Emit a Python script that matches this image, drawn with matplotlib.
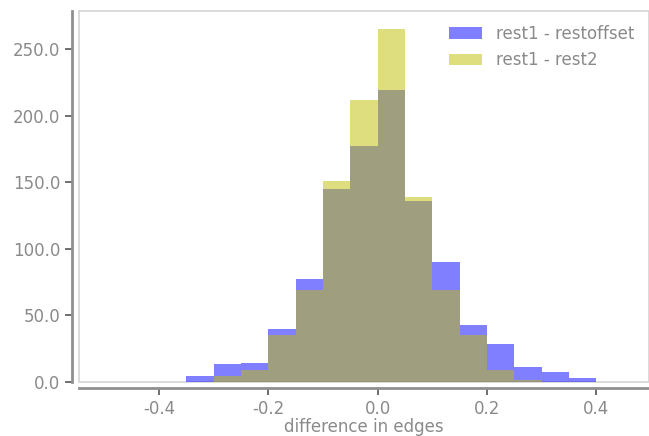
import numpy as np
import matplotlib.pyplot as plt
from matplotlib.patches import Rectangle

# histogram bin edges and counts for the two edge differences
edges = np.round(np.arange(-0.35, 0.40001, 0.05), 2)
counts_offset = [4, 13, 14, 40, 77, 145, 177, 219, 136, 90, 43, 28, 11, 7, 3]
counts_rest2 = [0, 4, 9, 35, 69, 151, 212, 265, 139, 69, 35, 9, 1, 0, 0]
centers = (edges[:-1] + edges[1:]) / 2

grey_text = '#8a8a8a'
grey_line = '#8f8f8f'

plt.rcParams['font.size'] = 12

fig = plt.figure(figsize=(6.49, 4.36), dpi=100)
ax = fig.add_axes([0.121, 0.1245, 0.879, 0.851])

ax.hist(centers, bins=edges, weights=counts_offset, color='b', alpha=0.5,
        label='rest1 - restoffset')
ax.hist(centers, bins=edges, weights=counts_rest2, color='y', alpha=0.5,
        label='rest1 - rest2')

ax.set_xlim(-0.547, 0.496)
ax.set_ylim(0, 279)
ax.set_xticks([-0.4, -0.2, 0.0, 0.2, 0.4])
ax.set_yticks([0, 50, 100, 150, 200, 250])
ax.yaxis.set_major_formatter(plt.FormatStrFormatter('%.1f'))
ax.xaxis.set_major_formatter(plt.FormatStrFormatter('%.1f'))

# light frame around the plot area, darker offset spines on left/bottom
ax.add_patch(Rectangle((0, 0), 1, 1, transform=ax.transAxes, fill=False,
                       edgecolor='#d4d4d4', linewidth=1.2, clip_on=False,
                       zorder=0.5))
for side in ['top', 'right']:
    ax.spines[side].set_visible(False)
for side in ['left', 'bottom']:
    ax.spines[side].set_position(('outward', 4.5))
    ax.spines[side].set_color(grey_line)
    ax.spines[side].set_linewidth(2)

ax.tick_params(colors='#555555', labelcolor=grey_text, length=5, width=1.2)

ax.set_xlabel('difference in edges', color=grey_text, labelpad=0.5)

leg = ax.legend(loc='upper right', frameon=False, handlelength=2.0,
                handleheight=0.7, labelspacing=0.5, borderaxespad=0.45,
                handletextpad=0.85)
for t in leg.get_texts():
    t.set_color(grey_text)

plt.savefig('out.png')
